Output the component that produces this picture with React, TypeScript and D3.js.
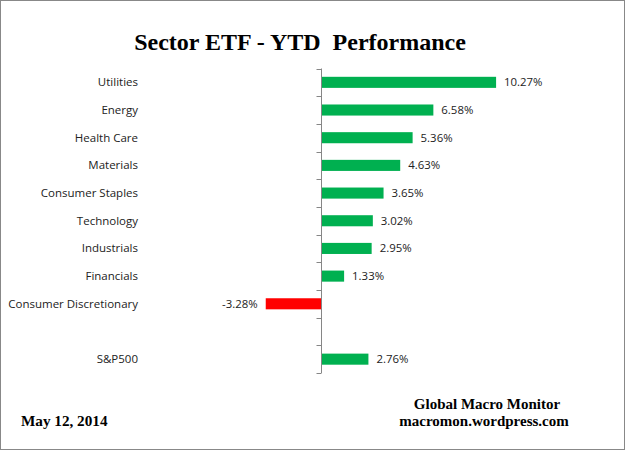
import React, { useEffect, useRef } from 'react';
import * as d3 from 'd3';

const sectors = [
  'Utilities',
  'Energy',
  'Health Care',
  'Materials',
  'Consumer Staples',
  'Technology',
  'Industrials',
  'Financials',
  'Consumer Discretionary',
  '',
  'S&P500',
];
const ytd = [10.27, 6.58, 5.36, 4.63, 3.65, 3.02, 2.95, 1.33, -3.28, null, 2.76];

const W = 626;
const H = 455;

const App: React.FC = () => {
  const svgRef = useRef<SVGSVGElement>(null);

  useEffect(() => {
    if (!svgRef.current) return;
    const svg = d3.select(svgRef.current);
    svg.selectAll('*').remove();

    // chart frame
    svg.append('rect')
      .attr('x', 0.5).attr('y', 0.5)
      .attr('width', 624).attr('height', 449)
      .attr('fill', '#fff')
      .attr('stroke', '#888')
      .attr('stroke-width', 1);

    const serif = '"Liberation Serif", "Times New Roman", serif';
    svg.append('text')
      .attr('x', 300).attr('y', 50)
      .attr('text-anchor', 'middle')
      .attr('font-family', serif)
      .attr('font-weight', 'bold')
      .attr('font-size', 24)
      .style('white-space', 'pre')
      .text('Sector ETF - YTD  Performance');

    const x = d3.scaleLinear().domain([-4, 12]).range([253.5, 525.5]);
    const y = d3.scaleBand<string>()
      .domain(sectors.map((s, i) => `${i}`))
      .range([68.5, 373])
      .paddingInner(0.6)
      .paddingOuter(0.3);

    const rows = sectors.map((name, i) => ({ name, value: ytd[i], key: `${i}` }));
    const bars = rows.filter(d => d.value !== null) as { name: string; value: number; key: string }[];

    const g = svg.append('g');

    g.selectAll('rect.bar')
      .data(bars)
      .join('rect')
      .attr('class', 'bar')
      .attr('x', d => x(Math.min(0, d.value)))
      .attr('y', d => y(d.key)!)
      .attr('width', d => Math.abs(x(d.value) - x(0)))
      .attr('height', y.bandwidth())
      .attr('fill', d => (d.value < 0 ? '#ff0000' : '#00b050'));

    // value labels
    g.selectAll('text.val')
      .data(bars)
      .join('text')
      .attr('class', 'val')
      .attr('x', d => (d.value < 0 ? x(d.value) - 8 : x(d.value) + 8))
      .attr('y', d => y(d.key)! + y.bandwidth() / 2)
      .attr('dy', '0.35em')
      .attr('text-anchor', d => (d.value < 0 ? 'end' : 'start'))
      .attr('font-family', '"Open Sans", sans-serif')
      .attr('font-size', 11.4)
      .attr('fill', '#222')
      .text(d => `${d.value.toFixed(2)}%`);

    // category labels
    g.selectAll('text.cat')
      .data(rows)
      .join('text')
      .attr('class', 'cat')
      .attr('x', 138)
      .attr('y', d => y(d.key)! + y.bandwidth() / 2)
      .attr('dy', '0.35em')
      .attr('text-anchor', 'end')
      .attr('font-family', '"Open Sans", sans-serif')
      .attr('font-size', 11.5)
      .attr('fill', '#222')
      .text(d => d.name);

    // vertical axis, ticks between categories
    const x0 = Math.round(x(0)) - 0.5;
    const top = 68.5;
    const bottom = 373;
    g.append('line')
      .attr('x1', x0).attr('x2', x0)
      .attr('y1', top).attr('y2', bottom)
      .attr('stroke', '#868686');
    g.selectAll('line.tick')
      .data(d3.range(sectors.length + 1))
      .join('line')
      .attr('class', 'tick')
      .attr('x1', x0 - 5).attr('x2', x0)
      .attr('y1', i => Math.round(top + i * (bottom - top) / sectors.length) + 0.5)
      .attr('y2', i => Math.round(top + i * (bottom - top) / sectors.length) + 0.5)
      .attr('stroke', '#868686');

    svg.append('text')
      .attr('x', 21).attr('y', 426)
      .attr('font-family', serif)
      .attr('font-weight', 'bold')
      .attr('font-size', 15.2)
      .text('May 12, 2014');
    svg.append('text')
      .attr('x', 487).attr('y', 409)
      .attr('text-anchor', 'middle')
      .attr('font-family', serif)
      .attr('font-weight', 'bold')
      .attr('font-size', 15)
      .text('Global Macro Monitor');
    svg.append('text')
      .attr('x', 484).attr('y', 426)
      .attr('text-anchor', 'middle')
      .attr('font-family', serif)
      .attr('font-weight', 'bold')
      .attr('font-size', 15)
      .text('macromon.wordpress.com');
  }, []);

  return (
    <svg
      ref={svgRef}
      width={W}
      height={H}
      style={{ position: 'absolute', left: 0, top: 0, background: '#fff' }}
    />
  );
};

export default App;
